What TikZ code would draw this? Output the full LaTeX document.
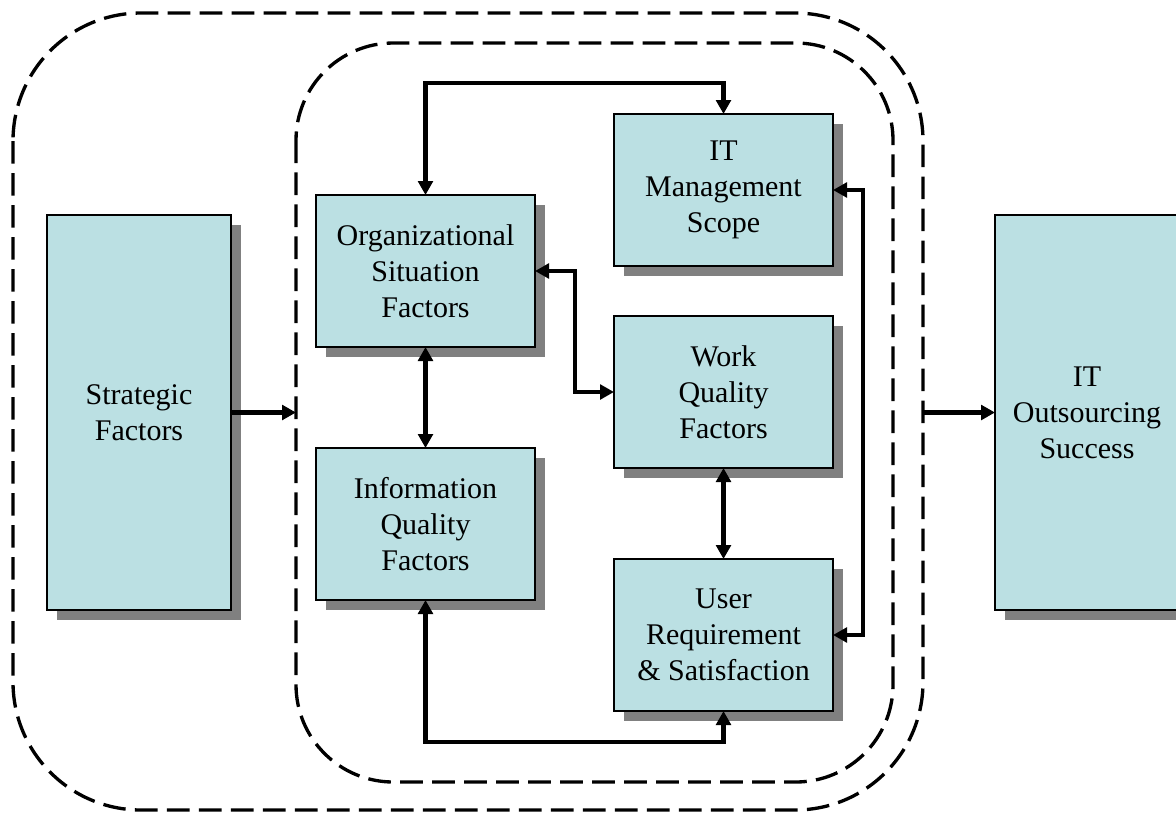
\documentclass[tikz,border=0pt]{standalone}
\usepackage{fontspec}
\setmainfont{Liberation Serif}
\usetikzlibrary{arrows.meta,shadows}
\definecolor{boxfill}{RGB}{187,224,227}
\definecolor{shadowgray}{RGB}{128,128,128}
\tikzset{
  factor/.style={draw=black, line width=1.2pt, fill=boxfill, inner sep=0pt, outer sep=0pt,
    align=center, font=\fontsize{22.5}{27}\selectfont,
    drop shadow={shadow xshift=7.5pt, shadow yshift=-7.5pt, fill=shadowgray, opacity=1}},
  smallbox/.style={factor, minimum width=164.25pt, minimum height=114pt},
  bigbox/.style={factor, minimum width=138pt, minimum height=296.25pt},
  region/.style={draw=black, line width=2.5pt, dash pattern=on 17pt off 7pt},
  conn/.style={draw=black, line width=3.4pt},
  tip/.tip={Triangle[length=10.5pt,width=11pt]}
}
\begin{document}
\begin{tikzpicture}[x=0.75pt,y=-0.75pt]
\useasboundingbox (0,0) rectangle (1176,815);
% dashed regions
\draw[region, rounded corners=96pt] (13,13) rectangle (923,810);
\draw[region, rounded corners=73pt] (296,43) rectangle (893,782);
% boxes
\node[bigbox] (strat) at (139,412.5) {Strategic\\Factors};
\node[bigbox] (out) at (1087,412.5) {IT\\Outsourcing\\Success};
\node[smallbox] (org) at (425.5,271) {Organizational\\Situation\\Factors};
\node[smallbox] (itm) at (723.5,190) {IT\\Management\\Scope};
\node[smallbox] (work) at (723.5,392) {Work\\Quality\\Factors};
\node[smallbox] (info) at (425.5,524) {Information\\Quality\\Factors};
\node[smallbox] (user) at (723.5,635) {User\\Requirement\\\& Satisfaction};
% helper coordinates
\coordinate (inL) at (296,412.5);
\coordinate (outR) at (923,412.5);
\coordinate (ty) at (0,83);
\coordinate (by) at (0,742);
\coordinate (mx) at (575,0);
\coordinate (rx) at (863,0);
% connectors
\draw[conn,-tip] (strat.east) -- (inL);
\draw[conn,-tip] (outR) -- (out.west);
\draw[conn,tip-tip] (org.south) -- (info.north);
\draw[conn,tip-tip] (work.south) -- (user.north);
\draw[conn,tip-tip] (org.north) |- (ty -| itm.north) -- (itm.north);
\draw[conn,tip-tip] (org.east) -| (mx |- work.west) -- (work.west);
\draw[conn,tip-tip] (itm.east) -| (rx |- user.east) -- (user.east);
\draw[conn,tip-tip] (info.south) |- (by -| user.south) -- (user.south);
\end{tikzpicture}
\end{document}
